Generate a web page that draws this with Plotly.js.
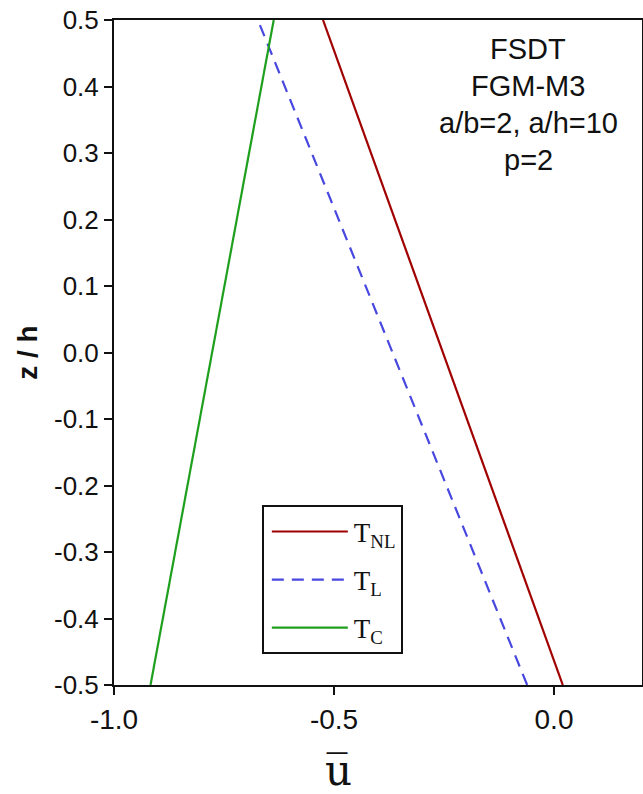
<!DOCTYPE html>
<html>
<head>
<meta charset="utf-8">
<script src="https://cdn.plot.ly/plotly-3.0.1.min.js"></script>
<style>html,body{margin:0;padding:0;background:#fff;}#chart{width:643px;height:794px;}</style>
</head>
<body>
<div id="chart"></div>
<script>
// z / h positions (through thickness)
const zh = [-0.5, 0.5];
// displacement u-bar for each temperature distribution
const uTNL = [0.020, -0.525];
const uTL = [-0.061, -0.673];
const uTC = [-0.917, -0.637];
const seriesNames = ['T<sub>NL</sub>', 'T<sub>L</sub>', 'T<sub>C</sub>'];
const xTicks = [-1.0, -0.5, 0.0];
const xTickText = ['-1.0', '-0.5', '0.0'];
const yTicks = [-0.5, -0.4, -0.3, -0.2, -0.1, 0.0, 0.1, 0.2, 0.3, 0.4, 0.5];
const yTickText = ['-0.5', '-0.4', '-0.3', '-0.2', '-0.1', '0.0', '0.1', '0.2', '0.3', '0.4', '0.5'];
const infoLines = ['FSDT', 'FGM-M3', 'a/b=2, a/h=10', 'p=2'];

const traces = [
  {x: uTNL, y: zh, name: seriesNames[0], mode: 'lines', legendgroup: 'a',
   line: {color: '#a00000', width: 2.2}},
  {x: uTL, y: zh, name: seriesNames[1], mode: 'lines', legendgroup: 'b',
   line: {color: '#4848e0', width: 2.2, dash: '12px,8px'}},
  {x: uTC, y: zh, name: seriesNames[2], mode: 'lines', legendgroup: 'c',
   line: {color: '#1ea01e', width: 2.2}}
];

const annotations = infoLines.map((t, i) => ({
  text: t, xref: 'paper', yref: 'paper', x: 0.785, y: 0.957 - i * 0.056,
  xanchor: 'center', yanchor: 'middle', showarrow: false,
  font: {family: 'Liberation Sans, Arial, sans-serif', size: 29, color: '#111'}
}));
annotations.push({
  text: 'u\u0305', xref: 'x', yref: 'paper', x: -0.49, y: -0.128,
  xanchor: 'center', yanchor: 'middle', showarrow: false,
  font: {family: 'DejaVu Serif, serif', size: 42, color: '#111'}
});

const layout = {
  width: 643, height: 794,
  margin: {l: 114, r: 1, t: 20, b: 109},
  paper_bgcolor: '#fff', plot_bgcolor: '#fff',
  showlegend: true,
  legend: {
    x: 0.28, y: 0.27, xanchor: 'left', yanchor: 'top',
    bordercolor: '#111', borderwidth: 2, bgcolor: '#fff',
    font: {family: 'Liberation Serif, Times New Roman, serif', size: 27, color: '#111'},
    tracegroupgap: 10, itemwidth: 80
  },
  xaxis: {
    range: [-1.0, 0.2], tickvals: xTicks, ticktext: xTickText,
    showgrid: false, zeroline: false, showline: true, linecolor: '#111', linewidth: 2,
    mirror: true, ticks: 'outside', ticklen: 8, tickwidth: 2, tickcolor: '#111',
    tickfont: {family: 'Liberation Sans, Arial, sans-serif', size: 28, color: '#111'}
  },
  yaxis: {
    range: [-0.5, 0.5], tickvals: yTicks, ticktext: yTickText,
    showgrid: false, zeroline: false, showline: true, linecolor: '#111', linewidth: 2,
    mirror: true, ticks: 'outside', ticklen: 8, tickwidth: 2, tickcolor: '#111',
    tickfont: {family: 'Liberation Sans, Arial, sans-serif', size: 26, color: '#111'},
    title: {text: '<b>z / h</b>', standoff: 8,
      font: {family: 'Liberation Sans, Arial, sans-serif', size: 28, color: '#111'}}
  },
  annotations: annotations
};

Plotly.newPlot('chart', traces, layout, {displayModeBar: false, staticPlot: true}).then(gd => {
  // lengthen the legend line samples to match the reference legend
  gd.querySelectorAll('g.legendlines path').forEach(p => p.setAttribute('d', 'M8,0h76'));
});
</script>
</body>
</html>
